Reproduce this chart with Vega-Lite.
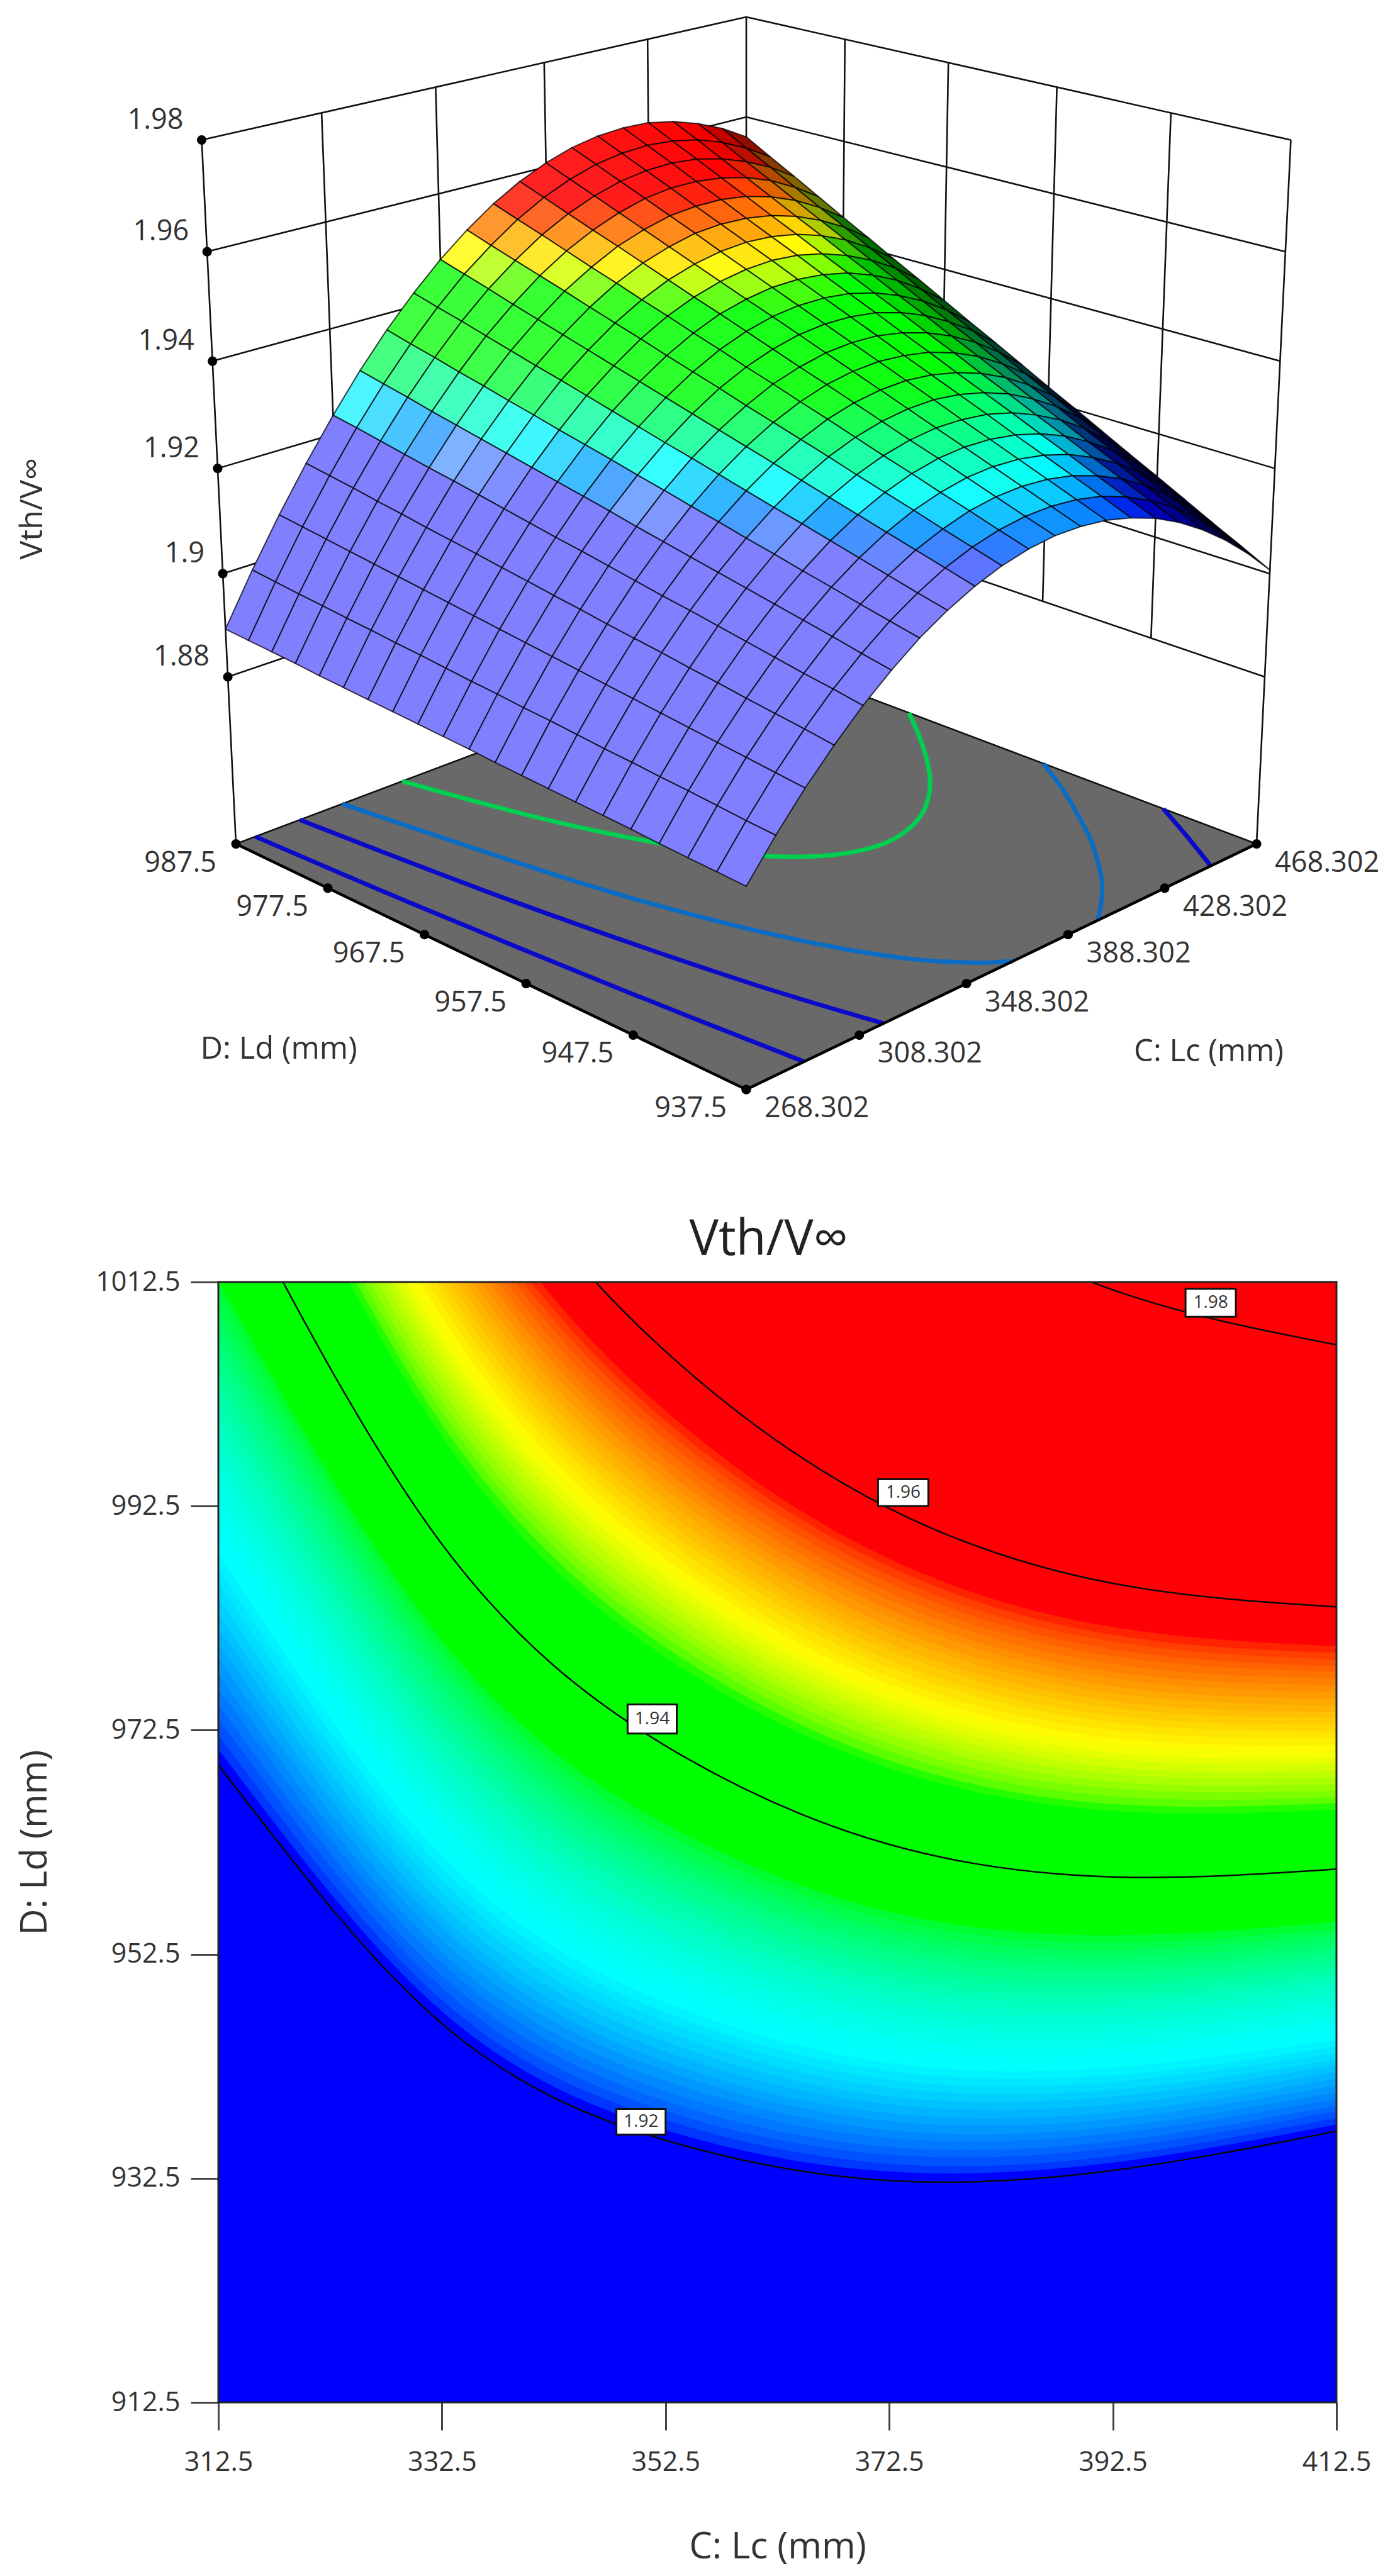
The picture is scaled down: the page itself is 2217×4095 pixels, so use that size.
{"$schema":"https://vega.github.io/schema/vega-lite/v6.json","autosize":{"type":"pad"},"padding":{"left":26,"top":0,"right":0,"bottom":0},"background":"white","bounds":"flush","spacing":138,"config":{"view":{"stroke":null},"font":"Open Sans"},
"datasets":{
"frame":[
{"k":"f","c":268.3,"d":987.5,"v":1.8468,"c2":268.3,"d2":987.5,"v2":1.8468},
{"k":"f","c":468.3,"d":987.5,"v":1.8468,"c2":268.3,"d2":937.5,"v2":1.8468},
{"k":"f","c":468.3,"d":937.5,"v":1.8468,"c2":468.3,"d2":937.5,"v2":1.8468},
{"k":"g","c":268.3,"d":987.5,"v":1.88,"c2":468.3,"d2":987.5,"v2":1.88},
{"k":"g","c":268.3,"d":987.5,"v":1.9,"c2":468.3,"d2":987.5,"v2":1.9},
{"k":"g","c":268.3,"d":987.5,"v":1.92,"c2":468.3,"d2":987.5,"v2":1.92},
{"k":"g","c":268.3,"d":987.5,"v":1.94,"c2":468.3,"d2":987.5,"v2":1.94},
{"k":"g","c":268.3,"d":987.5,"v":1.96,"c2":468.3,"d2":987.5,"v2":1.96},
{"k":"g","c":268.3,"d":987.5,"v":1.98,"c2":468.3,"d2":987.5,"v2":1.98},
{"k":"g","c":468.3,"d":987.5,"v":1.88,"c2":468.3,"d2":937.5,"v2":1.88},
{"k":"g","c":468.3,"d":987.5,"v":1.9,"c2":468.3,"d2":937.5,"v2":1.9},
{"k":"g","c":468.3,"d":987.5,"v":1.92,"c2":468.3,"d2":937.5,"v2":1.92},
{"k":"g","c":468.3,"d":987.5,"v":1.94,"c2":468.3,"d2":937.5,"v2":1.94},
{"k":"g","c":468.3,"d":987.5,"v":1.96,"c2":468.3,"d2":937.5,"v2":1.96},
{"k":"g","c":468.3,"d":987.5,"v":1.98,"c2":468.3,"d2":937.5,"v2":1.98},
{"k":"g","c":308.3,"d":987.5,"v":1.88,"c2":308.3,"d2":987.5,"v2":1.98},
{"k":"g","c":348.3,"d":987.5,"v":1.88,"c2":348.3,"d2":987.5,"v2":1.98},
{"k":"g","c":388.3,"d":987.5,"v":1.88,"c2":388.3,"d2":987.5,"v2":1.98},
{"k":"g","c":428.3,"d":987.5,"v":1.88,"c2":428.3,"d2":987.5,"v2":1.98},
{"k":"g","c":468.3,"d":987.5,"v":1.88,"c2":468.3,"d2":987.5,"v2":1.98},
{"k":"g","c":468.3,"d":947.5,"v":1.88,"c2":468.3,"d2":947.5,"v2":1.98},
{"k":"g","c":468.3,"d":957.5,"v":1.88,"c2":468.3,"d2":957.5,"v2":1.98},
{"k":"g","c":468.3,"d":967.5,"v":1.88,"c2":468.3,"d2":967.5,"v2":1.98},
{"k":"g","c":468.3,"d":977.5,"v":1.88,"c2":468.3,"d2":977.5,"v2":1.98},
{"k":"g","c":268.3,"d":987.5,"v":1.8468,"c2":268.3,"d2":987.5,"v2":1.98},
{"k":"g","c":468.3,"d":937.5,"v":1.8468,"c2":468.3,"d2":937.5,"v2":1.98},
{"k":"g","c":268.3,"d":987.5,"v":1.8468,"c2":468.3,"d2":987.5,"v2":1.8468},
{"k":"g","c":468.3,"d":987.5,"v":1.8468,"c2":468.3,"d2":937.5,"v2":1.8468},
{"k":"e","c":268.3,"d":987.5,"v":1.8468,"c2":268.3,"d2":937.5,"v2":1.8468},
{"k":"e","c":268.3,"d":937.5,"v":1.8468,"c2":468.3,"d2":937.5,"v2":1.8468},
{"k":"lv","c":268.3,"d":987.5,"v":1.88,"t":"1.88"},
{"k":"lv","c":268.3,"d":987.5,"v":1.9,"t":"1.9"},
{"k":"lv","c":268.3,"d":987.5,"v":1.92,"t":"1.92"},
{"k":"lv","c":268.3,"d":987.5,"v":1.94,"t":"1.94"},
{"k":"lv","c":268.3,"d":987.5,"v":1.96,"t":"1.96"},
{"k":"lv","c":268.3,"d":987.5,"v":1.98,"t":"1.98"},
{"k":"ld","c":268.3,"d":987.5,"v":1.8468,"t":"987.5"},
{"k":"ld","c":268.3,"d":977.5,"v":1.8468,"t":"977.5"},
{"k":"ld","c":268.3,"d":967.5,"v":1.8468,"t":"967.5"},
{"k":"ld","c":268.3,"d":957.5,"v":1.8468,"t":"957.5"},
{"k":"ld","c":268.3,"d":947.5,"v":1.8468,"t":"947.5"},
{"k":"ld","c":268.3,"d":937.5,"v":1.8468,"t":"937.5"},
{"k":"lc","c":268.3,"d":937.5,"v":1.8468,"t":"268.302"},
{"k":"lc","c":308.3,"d":937.5,"v":1.8468,"t":"308.302"},
{"k":"lc","c":348.3,"d":937.5,"v":1.8468,"t":"348.302"},
{"k":"lc","c":388.3,"d":937.5,"v":1.8468,"t":"388.302"},
{"k":"lc","c":428.3,"d":937.5,"v":1.8468,"t":"428.302"},
{"k":"lc","c":468.3,"d":937.5,"v":1.8468,"t":"468.302"},
{"k":"tc","c":428.3,"d":937.5,"v":1.8468,"t":"C: Lc (mm)"},
{"k":"td","c":268.3,"d":957.5,"v":1.8468,"t":"D: Ld (mm)"},
{"k":"tv","c":268.3,"d":987.5,"v":1.92,"t":"Vth/V∞"}
],
"floorlines":[
{"g":"a","l":"1.896","c":275.1,"d":987.5},{"g":"a","l":"1.896","c":278.3,"d":971.2},{"g":"a","l":"1.896","c":283.3,"d":952.6},{"g":"a","l":"1.896","c":288.5,"d":937.5},
{"g":"b","l":"1.91","c":290.9,"d":987.5},{"g":"b","l":"1.91","c":298.3,"d":967.1},{"g":"b","l":"1.91","c":308.3,"d":948.6},{"g":"b","l":"1.91","c":317.2,"d":937.5},
{"g":"c","l":"1.91","c":448.1,"d":937.5},{"g":"c","l":"1.91","c":458.3,"d":941.6},{"g":"c","l":"1.91","c":468.3,"d":945.8},
{"g":"d","l":"1.9222","c":306.3,"d":987.5},{"g":"d","l":"1.9222","c":318.3,"d":966.8},{"g":"d","l":"1.9222","c":328.3,"d":955.5},{"g":"d","l":"1.9222","c":338.3,"d":947.8},{"g":"d","l":"1.9222","c":348.3,"d":942.5},{"g":"d","l":"1.9222","c":358.3,"d":939.2},{"g":"d","l":"1.9222","c":366.3,"d":937.5},
{"g":"e","l":"1.9222","c":400.3,"d":937.5},{"g":"e","l":"1.9222","c":408.3,"d":938.9},{"g":"e","l":"1.9222","c":418.3,"d":940.9},{"g":"e","l":"1.9222","c":428.3,"d":943.4},{"g":"e","l":"1.9222","c":438.3,"d":946.2},{"g":"e","l":"1.9222","c":448.3,"d":949.5},{"g":"e","l":"1.9222","c":458.3,"d":953},{"g":"e","l":"1.9222","c":468.3,"d":957},
{"g":"f","l":"1.937","c":328.5,"d":987.5},{"g":"f","l":"1.937","c":338.3,"d":976.8},{"g":"f","l":"1.937","c":348.3,"d":968.9},{"g":"f","l":"1.937","c":358.3,"d":963.4},{"g":"f","l":"1.937","c":368.3,"d":959.6},{"g":"f","l":"1.937","c":378.3,"d":957.3},{"g":"f","l":"1.937","c":388.3,"d":956.1},{"g":"f","l":"1.937","c":398.3,"d":955.8},{"g":"f","l":"1.937","c":408.3,"d":956.3},{"g":"f","l":"1.937","c":418.3,"d":957.4},{"g":"f","l":"1.937","c":428.3,"d":959.1},{"g":"f","l":"1.937","c":438.3,"d":961.3},{"g":"f","l":"1.937","c":448.3,"d":964},{"g":"f","l":"1.937","c":458.3,"d":967},{"g":"f","l":"1.937","c":468.3,"d":970.3}
],
"mesh":[
{"c":268.3,"d":937.5,"v":1.8830},{"c":268.3,"d":940,"v":1.8833},{"c":268.3,"d":942.5,"v":1.8836},{"c":268.3,"d":945,"v":1.8839},{"c":268.3,"d":947.5,"v":1.8843},{"c":268.3,"d":950,"v":1.8846},{"c":268.3,"d":952.5,"v":1.8849},{"c":268.3,"d":955,"v":1.8852},{"c":268.3,"d":957.5,"v":1.8855},{"c":268.3,"d":960,"v":1.8858},{"c":268.3,"d":962.5,"v":1.8862},{"c":268.3,"d":965,"v":1.8865},{"c":268.3,"d":967.5,"v":1.8868},{"c":268.3,"d":970,"v":1.8871},{"c":268.3,"d":972.5,"v":1.8874},{"c":268.3,"d":975,"v":1.8877},{"c":268.3,"d":977.5,"v":1.8880},{"c":268.3,"d":980,"v":1.8884},{"c":268.3,"d":982.5,"v":1.8887},{"c":268.3,"d":985,"v":1.8890},{"c":268.3,"d":987.5,"v":1.8893},
{"c":278.3,"d":937.5,"v":1.8897},{"c":278.3,"d":940,"v":1.8901},{"c":278.3,"d":942.5,"v":1.8906},{"c":278.3,"d":945,"v":1.8911},{"c":278.3,"d":947.5,"v":1.8915},{"c":278.3,"d":950,"v":1.8920},{"c":278.3,"d":952.5,"v":1.8924},{"c":278.3,"d":955,"v":1.8929},{"c":278.3,"d":957.5,"v":1.8934},{"c":278.3,"d":960,"v":1.8938},{"c":278.3,"d":962.5,"v":1.8943},{"c":278.3,"d":965,"v":1.8947},{"c":278.3,"d":967.5,"v":1.8952},{"c":278.3,"d":970,"v":1.8957},{"c":278.3,"d":972.5,"v":1.8961},{"c":278.3,"d":975,"v":1.8966},{"c":278.3,"d":977.5,"v":1.8970},{"c":278.3,"d":980,"v":1.8975},{"c":278.3,"d":982.5,"v":1.8979},{"c":278.3,"d":985,"v":1.8984},{"c":278.3,"d":987.5,"v":1.8989},
{"c":288.3,"d":937.5,"v":1.8958},{"c":288.3,"d":940,"v":1.8964},{"c":288.3,"d":942.5,"v":1.8970},{"c":288.3,"d":945,"v":1.8976},{"c":288.3,"d":947.5,"v":1.8982},{"c":288.3,"d":950,"v":1.8988},{"c":288.3,"d":952.5,"v":1.8994},{"c":288.3,"d":955,"v":1.9000},{"c":288.3,"d":957.5,"v":1.9006},{"c":288.3,"d":960,"v":1.9012},{"c":288.3,"d":962.5,"v":1.9018},{"c":288.3,"d":965,"v":1.9024},{"c":288.3,"d":967.5,"v":1.9030},{"c":288.3,"d":970,"v":1.9036},{"c":288.3,"d":972.5,"v":1.9042},{"c":288.3,"d":975,"v":1.9048},{"c":288.3,"d":977.5,"v":1.9054},{"c":288.3,"d":980,"v":1.9060},{"c":288.3,"d":982.5,"v":1.9066},{"c":288.3,"d":985,"v":1.9072},{"c":288.3,"d":987.5,"v":1.9078},
{"c":298.3,"d":937.5,"v":1.9012},{"c":298.3,"d":940,"v":1.9020},{"c":298.3,"d":942.5,"v":1.9027},{"c":298.3,"d":945,"v":1.9034},{"c":298.3,"d":947.5,"v":1.9042},{"c":298.3,"d":950,"v":1.9049},{"c":298.3,"d":952.5,"v":1.9057},{"c":298.3,"d":955,"v":1.9064},{"c":298.3,"d":957.5,"v":1.9071},{"c":298.3,"d":960,"v":1.9079},{"c":298.3,"d":962.5,"v":1.9086},{"c":298.3,"d":965,"v":1.9094},{"c":298.3,"d":967.5,"v":1.9101},{"c":298.3,"d":970,"v":1.9109},{"c":298.3,"d":972.5,"v":1.9116},{"c":298.3,"d":975,"v":1.9123},{"c":298.3,"d":977.5,"v":1.9131},{"c":298.3,"d":980,"v":1.9138},{"c":298.3,"d":982.5,"v":1.9146},{"c":298.3,"d":985,"v":1.9153},{"c":298.3,"d":987.5,"v":1.9160},
{"c":308.3,"d":937.5,"v":1.9061},{"c":308.3,"d":940,"v":1.9070},{"c":308.3,"d":942.5,"v":1.9078},{"c":308.3,"d":945,"v":1.9087},{"c":308.3,"d":947.5,"v":1.9096},{"c":308.3,"d":950,"v":1.9105},{"c":308.3,"d":952.5,"v":1.9114},{"c":308.3,"d":955,"v":1.9122},{"c":308.3,"d":957.5,"v":1.9131},{"c":308.3,"d":960,"v":1.9140},{"c":308.3,"d":962.5,"v":1.9149},{"c":308.3,"d":965,"v":1.9157},{"c":308.3,"d":967.5,"v":1.9166},{"c":308.3,"d":970,"v":1.9175},{"c":308.3,"d":972.5,"v":1.9184},{"c":308.3,"d":975,"v":1.9193},{"c":308.3,"d":977.5,"v":1.9201},{"c":308.3,"d":980,"v":1.9210},{"c":308.3,"d":982.5,"v":1.9219},{"c":308.3,"d":985,"v":1.9228},{"c":308.3,"d":987.5,"v":1.9236},
{"c":318.3,"d":937.5,"v":1.9103},{"c":318.3,"d":940,"v":1.9113},{"c":318.3,"d":942.5,"v":1.9124},{"c":318.3,"d":945,"v":1.9134},{"c":318.3,"d":947.5,"v":1.9144},{"c":318.3,"d":950,"v":1.9154},{"c":318.3,"d":952.5,"v":1.9164},{"c":318.3,"d":955,"v":1.9174},{"c":318.3,"d":957.5,"v":1.9184},{"c":318.3,"d":960,"v":1.9194},{"c":318.3,"d":962.5,"v":1.9205},{"c":318.3,"d":965,"v":1.9215},{"c":318.3,"d":967.5,"v":1.9225},{"c":318.3,"d":970,"v":1.9235},{"c":318.3,"d":972.5,"v":1.9245},{"c":318.3,"d":975,"v":1.9255},{"c":318.3,"d":977.5,"v":1.9265},{"c":318.3,"d":980,"v":1.9275},{"c":318.3,"d":982.5,"v":1.9286},{"c":318.3,"d":985,"v":1.9296},{"c":318.3,"d":987.5,"v":1.9306},
{"c":328.3,"d":937.5,"v":1.9140},{"c":328.3,"d":940,"v":1.9151},{"c":328.3,"d":942.5,"v":1.9162},{"c":328.3,"d":945,"v":1.9174},{"c":328.3,"d":947.5,"v":1.9185},{"c":328.3,"d":950,"v":1.9197},{"c":328.3,"d":952.5,"v":1.9208},{"c":328.3,"d":955,"v":1.9220},{"c":328.3,"d":957.5,"v":1.9231},{"c":328.3,"d":960,"v":1.9243},{"c":328.3,"d":962.5,"v":1.9254},{"c":328.3,"d":965,"v":1.9266},{"c":328.3,"d":967.5,"v":1.9277},{"c":328.3,"d":970,"v":1.9288},{"c":328.3,"d":972.5,"v":1.9300},{"c":328.3,"d":975,"v":1.9311},{"c":328.3,"d":977.5,"v":1.9323},{"c":328.3,"d":980,"v":1.9334},{"c":328.3,"d":982.5,"v":1.9346},{"c":328.3,"d":985,"v":1.9357},{"c":328.3,"d":987.5,"v":1.9369},
{"c":338.3,"d":937.5,"v":1.9170},{"c":338.3,"d":940,"v":1.9182},{"c":338.3,"d":942.5,"v":1.9195},{"c":338.3,"d":945,"v":1.9208},{"c":338.3,"d":947.5,"v":1.9221},{"c":338.3,"d":950,"v":1.9234},{"c":338.3,"d":952.5,"v":1.9246},{"c":338.3,"d":955,"v":1.9259},{"c":338.3,"d":957.5,"v":1.9272},{"c":338.3,"d":960,"v":1.9285},{"c":338.3,"d":962.5,"v":1.9297},{"c":338.3,"d":965,"v":1.9310},{"c":338.3,"d":967.5,"v":1.9323},{"c":338.3,"d":970,"v":1.9336},{"c":338.3,"d":972.5,"v":1.9349},{"c":338.3,"d":975,"v":1.9361},{"c":338.3,"d":977.5,"v":1.9374},{"c":338.3,"d":980,"v":1.9387},{"c":338.3,"d":982.5,"v":1.9400},{"c":338.3,"d":985,"v":1.9412},{"c":338.3,"d":987.5,"v":1.9425},
{"c":348.3,"d":937.5,"v":1.9194},{"c":348.3,"d":940,"v":1.9208},{"c":348.3,"d":942.5,"v":1.9222},{"c":348.3,"d":945,"v":1.9236},{"c":348.3,"d":947.5,"v":1.9250},{"c":348.3,"d":950,"v":1.9264},{"c":348.3,"d":952.5,"v":1.9278},{"c":348.3,"d":955,"v":1.9292},{"c":348.3,"d":957.5,"v":1.9306},{"c":348.3,"d":960,"v":1.9320},{"c":348.3,"d":962.5,"v":1.9334},{"c":348.3,"d":965,"v":1.9348},{"c":348.3,"d":967.5,"v":1.9362},{"c":348.3,"d":970,"v":1.9376},{"c":348.3,"d":972.5,"v":1.9390},{"c":348.3,"d":975,"v":1.9404},{"c":348.3,"d":977.5,"v":1.9418},{"c":348.3,"d":980,"v":1.9432},{"c":348.3,"d":982.5,"v":1.9447},{"c":348.3,"d":985,"v":1.9461},{"c":348.3,"d":987.5,"v":1.9475},
{"c":358.3,"d":937.5,"v":1.9212},{"c":358.3,"d":940,"v":1.9227},{"c":358.3,"d":942.5,"v":1.9242},{"c":358.3,"d":945,"v":1.9258},{"c":358.3,"d":947.5,"v":1.9273},{"c":358.3,"d":950,"v":1.9288},{"c":358.3,"d":952.5,"v":1.9304},{"c":358.3,"d":955,"v":1.9319},{"c":358.3,"d":957.5,"v":1.9334},{"c":358.3,"d":960,"v":1.9349},{"c":358.3,"d":962.5,"v":1.9365},{"c":358.3,"d":965,"v":1.9380},{"c":358.3,"d":967.5,"v":1.9395},{"c":358.3,"d":970,"v":1.9411},{"c":358.3,"d":972.5,"v":1.9426},{"c":358.3,"d":975,"v":1.9441},{"c":358.3,"d":977.5,"v":1.9457},{"c":358.3,"d":980,"v":1.9472},{"c":358.3,"d":982.5,"v":1.9487},{"c":358.3,"d":985,"v":1.9502},{"c":358.3,"d":987.5,"v":1.9518},
{"c":368.3,"d":937.5,"v":1.9224},{"c":368.3,"d":940,"v":1.9240},{"c":368.3,"d":942.5,"v":1.9257},{"c":368.3,"d":945,"v":1.9273},{"c":368.3,"d":947.5,"v":1.9290},{"c":368.3,"d":950,"v":1.9306},{"c":368.3,"d":952.5,"v":1.9323},{"c":368.3,"d":955,"v":1.9340},{"c":368.3,"d":957.5,"v":1.9356},{"c":368.3,"d":960,"v":1.9373},{"c":368.3,"d":962.5,"v":1.9389},{"c":368.3,"d":965,"v":1.9406},{"c":368.3,"d":967.5,"v":1.9422},{"c":368.3,"d":970,"v":1.9439},{"c":368.3,"d":972.5,"v":1.9455},{"c":368.3,"d":975,"v":1.9472},{"c":368.3,"d":977.5,"v":1.9488},{"c":368.3,"d":980,"v":1.9505},{"c":368.3,"d":982.5,"v":1.9522},{"c":368.3,"d":985,"v":1.9538},{"c":368.3,"d":987.5,"v":1.9555},
{"c":378.3,"d":937.5,"v":1.9230},{"c":378.3,"d":940,"v":1.9247},{"c":378.3,"d":942.5,"v":1.9265},{"c":378.3,"d":945,"v":1.9283},{"c":378.3,"d":947.5,"v":1.9301},{"c":378.3,"d":950,"v":1.9318},{"c":378.3,"d":952.5,"v":1.9336},{"c":378.3,"d":955,"v":1.9354},{"c":378.3,"d":957.5,"v":1.9372},{"c":378.3,"d":960,"v":1.9389},{"c":378.3,"d":962.5,"v":1.9407},{"c":378.3,"d":965,"v":1.9425},{"c":378.3,"d":967.5,"v":1.9443},{"c":378.3,"d":970,"v":1.9460},{"c":378.3,"d":972.5,"v":1.9478},{"c":378.3,"d":975,"v":1.9496},{"c":378.3,"d":977.5,"v":1.9514},{"c":378.3,"d":980,"v":1.9531},{"c":378.3,"d":982.5,"v":1.9549},{"c":378.3,"d":985,"v":1.9567},{"c":378.3,"d":987.5,"v":1.9585},
{"c":388.3,"d":937.5,"v":1.9229},{"c":388.3,"d":940,"v":1.9248},{"c":388.3,"d":942.5,"v":1.9267},{"c":388.3,"d":945,"v":1.9286},{"c":388.3,"d":947.5,"v":1.9305},{"c":388.3,"d":950,"v":1.9324},{"c":388.3,"d":952.5,"v":1.9343},{"c":388.3,"d":955,"v":1.9362},{"c":388.3,"d":957.5,"v":1.9381},{"c":388.3,"d":960,"v":1.9400},{"c":388.3,"d":962.5,"v":1.9419},{"c":388.3,"d":965,"v":1.9438},{"c":388.3,"d":967.5,"v":1.9456},{"c":388.3,"d":970,"v":1.9475},{"c":388.3,"d":972.5,"v":1.9494},{"c":388.3,"d":975,"v":1.9513},{"c":388.3,"d":977.5,"v":1.9532},{"c":388.3,"d":980,"v":1.9551},{"c":388.3,"d":982.5,"v":1.9570},{"c":388.3,"d":985,"v":1.9589},{"c":388.3,"d":987.5,"v":1.9608},
{"c":398.3,"d":937.5,"v":1.9223},{"c":398.3,"d":940,"v":1.9243},{"c":398.3,"d":942.5,"v":1.9263},{"c":398.3,"d":945,"v":1.9283},{"c":398.3,"d":947.5,"v":1.9303},{"c":398.3,"d":950,"v":1.9323},{"c":398.3,"d":952.5,"v":1.9344},{"c":398.3,"d":955,"v":1.9364},{"c":398.3,"d":957.5,"v":1.9384},{"c":398.3,"d":960,"v":1.9404},{"c":398.3,"d":962.5,"v":1.9424},{"c":398.3,"d":965,"v":1.9444},{"c":398.3,"d":967.5,"v":1.9464},{"c":398.3,"d":970,"v":1.9484},{"c":398.3,"d":972.5,"v":1.9504},{"c":398.3,"d":975,"v":1.9525},{"c":398.3,"d":977.5,"v":1.9545},{"c":398.3,"d":980,"v":1.9565},{"c":398.3,"d":982.5,"v":1.9585},{"c":398.3,"d":985,"v":1.9605},{"c":398.3,"d":987.5,"v":1.9625},
{"c":408.3,"d":937.5,"v":1.9210},{"c":408.3,"d":940,"v":1.9232},{"c":408.3,"d":942.5,"v":1.9253},{"c":408.3,"d":945,"v":1.9274},{"c":408.3,"d":947.5,"v":1.9295},{"c":408.3,"d":950,"v":1.9317},{"c":408.3,"d":952.5,"v":1.9338},{"c":408.3,"d":955,"v":1.9359},{"c":408.3,"d":957.5,"v":1.9380},{"c":408.3,"d":960,"v":1.9402},{"c":408.3,"d":962.5,"v":1.9423},{"c":408.3,"d":965,"v":1.9444},{"c":408.3,"d":967.5,"v":1.9465},{"c":408.3,"d":970,"v":1.9487},{"c":408.3,"d":972.5,"v":1.9508},{"c":408.3,"d":975,"v":1.9529},{"c":408.3,"d":977.5,"v":1.9550},{"c":408.3,"d":980,"v":1.9572},{"c":408.3,"d":982.5,"v":1.9593},{"c":408.3,"d":985,"v":1.9614},{"c":408.3,"d":987.5,"v":1.9635},
{"c":418.3,"d":937.5,"v":1.9192},{"c":418.3,"d":940,"v":1.9214},{"c":418.3,"d":942.5,"v":1.9236},{"c":418.3,"d":945,"v":1.9259},{"c":418.3,"d":947.5,"v":1.9281},{"c":418.3,"d":950,"v":1.9304},{"c":418.3,"d":952.5,"v":1.9326},{"c":418.3,"d":955,"v":1.9348},{"c":418.3,"d":957.5,"v":1.9371},{"c":418.3,"d":960,"v":1.9393},{"c":418.3,"d":962.5,"v":1.9416},{"c":418.3,"d":965,"v":1.9438},{"c":418.3,"d":967.5,"v":1.9460},{"c":418.3,"d":970,"v":1.9483},{"c":418.3,"d":972.5,"v":1.9505},{"c":418.3,"d":975,"v":1.9527},{"c":418.3,"d":977.5,"v":1.9550},{"c":418.3,"d":980,"v":1.9572},{"c":418.3,"d":982.5,"v":1.9595},{"c":418.3,"d":985,"v":1.9617},{"c":418.3,"d":987.5,"v":1.9639},
{"c":428.3,"d":937.5,"v":1.9167},{"c":428.3,"d":940,"v":1.9190},{"c":428.3,"d":942.5,"v":1.9214},{"c":428.3,"d":945,"v":1.9237},{"c":428.3,"d":947.5,"v":1.9261},{"c":428.3,"d":950,"v":1.9284},{"c":428.3,"d":952.5,"v":1.9308},{"c":428.3,"d":955,"v":1.9331},{"c":428.3,"d":957.5,"v":1.9355},{"c":428.3,"d":960,"v":1.9378},{"c":428.3,"d":962.5,"v":1.9402},{"c":428.3,"d":965,"v":1.9425},{"c":428.3,"d":967.5,"v":1.9449},{"c":428.3,"d":970,"v":1.9472},{"c":428.3,"d":972.5,"v":1.9496},{"c":428.3,"d":975,"v":1.9519},{"c":428.3,"d":977.5,"v":1.9543},{"c":428.3,"d":980,"v":1.9566},{"c":428.3,"d":982.5,"v":1.9590},{"c":428.3,"d":985,"v":1.9613},{"c":428.3,"d":987.5,"v":1.9637},
{"c":438.3,"d":937.5,"v":1.9136},{"c":438.3,"d":940,"v":1.9161},{"c":438.3,"d":942.5,"v":1.9185},{"c":438.3,"d":945,"v":1.9210},{"c":438.3,"d":947.5,"v":1.9234},{"c":438.3,"d":950,"v":1.9259},{"c":438.3,"d":952.5,"v":1.9283},{"c":438.3,"d":955,"v":1.9308},{"c":438.3,"d":957.5,"v":1.9333},{"c":438.3,"d":960,"v":1.9357},{"c":438.3,"d":962.5,"v":1.9382},{"c":438.3,"d":965,"v":1.9406},{"c":438.3,"d":967.5,"v":1.9431},{"c":438.3,"d":970,"v":1.9455},{"c":438.3,"d":972.5,"v":1.9480},{"c":438.3,"d":975,"v":1.9504},{"c":438.3,"d":977.5,"v":1.9529},{"c":438.3,"d":980,"v":1.9554},{"c":438.3,"d":982.5,"v":1.9578},{"c":438.3,"d":985,"v":1.9603},{"c":438.3,"d":987.5,"v":1.9627},
{"c":448.3,"d":937.5,"v":1.9099},{"c":448.3,"d":940,"v":1.9125},{"c":448.3,"d":942.5,"v":1.9150},{"c":448.3,"d":945,"v":1.9176},{"c":448.3,"d":947.5,"v":1.9202},{"c":448.3,"d":950,"v":1.9227},{"c":448.3,"d":952.5,"v":1.9253},{"c":448.3,"d":955,"v":1.9278},{"c":448.3,"d":957.5,"v":1.9304},{"c":448.3,"d":960,"v":1.9330},{"c":448.3,"d":962.5,"v":1.9355},{"c":448.3,"d":965,"v":1.9381},{"c":448.3,"d":967.5,"v":1.9407},{"c":448.3,"d":970,"v":1.9432},{"c":448.3,"d":972.5,"v":1.9458},{"c":448.3,"d":975,"v":1.9483},{"c":448.3,"d":977.5,"v":1.9509},{"c":448.3,"d":980,"v":1.9535},{"c":448.3,"d":982.5,"v":1.9560},{"c":448.3,"d":985,"v":1.9586},{"c":448.3,"d":987.5,"v":1.9611},
{"c":458.3,"d":937.5,"v":1.9056},{"c":458.3,"d":940,"v":1.9083},{"c":458.3,"d":942.5,"v":1.9109},{"c":458.3,"d":945,"v":1.9136},{"c":458.3,"d":947.5,"v":1.9163},{"c":458.3,"d":950,"v":1.9189},{"c":458.3,"d":952.5,"v":1.9216},{"c":458.3,"d":955,"v":1.9243},{"c":458.3,"d":957.5,"v":1.9269},{"c":458.3,"d":960,"v":1.9296},{"c":458.3,"d":962.5,"v":1.9323},{"c":458.3,"d":965,"v":1.9349},{"c":458.3,"d":967.5,"v":1.9376},{"c":458.3,"d":970,"v":1.9403},{"c":458.3,"d":972.5,"v":1.9429},{"c":458.3,"d":975,"v":1.9456},{"c":458.3,"d":977.5,"v":1.9482},{"c":458.3,"d":980,"v":1.9509},{"c":458.3,"d":982.5,"v":1.9536},{"c":458.3,"d":985,"v":1.9562},{"c":458.3,"d":987.5,"v":1.9589},
{"c":468.3,"d":937.5,"v":1.9007},{"c":468.3,"d":940,"v":1.9035},{"c":468.3,"d":942.5,"v":1.9062},{"c":468.3,"d":945,"v":1.9090},{"c":468.3,"d":947.5,"v":1.9118},{"c":468.3,"d":950,"v":1.9145},{"c":468.3,"d":952.5,"v":1.9173},{"c":468.3,"d":955,"v":1.9201},{"c":468.3,"d":957.5,"v":1.9228},{"c":468.3,"d":960,"v":1.9256},{"c":468.3,"d":962.5,"v":1.9284},{"c":468.3,"d":965,"v":1.9311},{"c":468.3,"d":967.5,"v":1.9339},{"c":468.3,"d":970,"v":1.9367},{"c":468.3,"d":972.5,"v":1.9394},{"c":468.3,"d":975,"v":1.9422},{"c":468.3,"d":977.5,"v":1.9449},{"c":468.3,"d":980,"v":1.9477},{"c":468.3,"d":982.5,"v":1.9505},{"c":468.3,"d":985,"v":1.9532},{"c":468.3,"d":987.5,"v":1.9560}
],
"bands":[
{"L":1.9205,"c":312.5,"d":970.8},{"L":1.9205,"c":332.5,"d":947.4},{"L":1.9205,"c":352.5,"d":936.8},{"L":1.9205,"c":372.5,"d":933.1},{"L":1.9205,"c":392.5,"d":933.9},{"L":1.9205,"c":412.5,"d":937.3},
{"L":1.921,"c":312.5,"d":972.1},{"L":1.921,"c":332.5,"d":948.4},{"L":1.921,"c":352.5,"d":937.7},{"L":1.921,"c":372.5,"d":933.8},{"L":1.921,"c":392.5,"d":934.5},{"L":1.921,"c":412.5,"d":937.9},
{"L":1.9215,"c":312.5,"d":973.5},{"L":1.9215,"c":332.5,"d":949.5},{"L":1.9215,"c":352.5,"d":938.5},{"L":1.9215,"c":372.5,"d":934.6},{"L":1.9215,"c":392.5,"d":935.2},{"L":1.9215,"c":412.5,"d":938.5},
{"L":1.922,"c":312.5,"d":974.8},{"L":1.922,"c":332.5,"d":950.6},{"L":1.922,"c":352.5,"d":939.4},{"L":1.922,"c":372.5,"d":935.3},{"L":1.922,"c":392.5,"d":935.8},{"L":1.922,"c":412.5,"d":939},
{"L":1.9225,"c":312.5,"d":976.2},{"L":1.9225,"c":332.5,"d":951.7},{"L":1.9225,"c":352.5,"d":940.3},{"L":1.9225,"c":372.5,"d":936.1},{"L":1.9225,"c":392.5,"d":936.5},{"L":1.9225,"c":412.5,"d":939.6},
{"L":1.923,"c":312.5,"d":977.5},{"L":1.923,"c":332.5,"d":952.7},{"L":1.923,"c":352.5,"d":941.2},{"L":1.923,"c":372.5,"d":936.8},{"L":1.923,"c":392.5,"d":937.1},{"L":1.923,"c":412.5,"d":940.2},
{"L":1.9235,"c":312.5,"d":978.9},{"L":1.9235,"c":332.5,"d":953.8},{"L":1.9235,"c":352.5,"d":942.1},{"L":1.9235,"c":372.5,"d":937.6},{"L":1.9235,"c":392.5,"d":937.8},{"L":1.9235,"c":412.5,"d":940.8},
{"L":1.924,"c":312.5,"d":980.2},{"L":1.924,"c":332.5,"d":954.9},{"L":1.924,"c":352.5,"d":942.9},{"L":1.924,"c":372.5,"d":938.3},{"L":1.924,"c":392.5,"d":938.4},{"L":1.924,"c":412.5,"d":941.4},
{"L":1.9245,"c":312.5,"d":981.6},{"L":1.9245,"c":332.5,"d":955.9},{"L":1.9245,"c":352.5,"d":943.8},{"L":1.9245,"c":372.5,"d":939.1},{"L":1.9245,"c":392.5,"d":939.1},{"L":1.9245,"c":412.5,"d":942},
{"L":1.925,"c":312.5,"d":982.9},{"L":1.925,"c":332.5,"d":957},{"L":1.925,"c":352.5,"d":944.7},{"L":1.925,"c":372.5,"d":939.8},{"L":1.925,"c":392.5,"d":939.8},{"L":1.925,"c":412.5,"d":942.6},
{"L":1.9255,"c":312.5,"d":984.3},{"L":1.9255,"c":332.5,"d":958.1},{"L":1.9255,"c":352.5,"d":945.6},{"L":1.9255,"c":372.5,"d":940.6},{"L":1.9255,"c":392.5,"d":940.4},{"L":1.9255,"c":412.5,"d":943.1},
{"L":1.926,"c":312.5,"d":985.6},{"L":1.926,"c":332.5,"d":959.1},{"L":1.926,"c":352.5,"d":946.5},{"L":1.926,"c":372.5,"d":941.3},{"L":1.926,"c":392.5,"d":941.1},{"L":1.926,"c":412.5,"d":943.7},
{"L":1.9265,"c":312.5,"d":987},{"L":1.9265,"c":332.5,"d":960.2},{"L":1.9265,"c":352.5,"d":947.3},{"L":1.9265,"c":372.5,"d":942.1},{"L":1.9265,"c":392.5,"d":941.7},{"L":1.9265,"c":412.5,"d":944.3},
{"L":1.927,"c":312.5,"d":988.3},{"L":1.927,"c":332.5,"d":961.3},{"L":1.927,"c":352.5,"d":948.2},{"L":1.927,"c":372.5,"d":942.8},{"L":1.927,"c":392.5,"d":942.4},{"L":1.927,"c":412.5,"d":944.9},
{"L":1.9275,"c":312.5,"d":989.7},{"L":1.9275,"c":332.5,"d":962.4},{"L":1.9275,"c":352.5,"d":949.1},{"L":1.9275,"c":372.5,"d":943.6},{"L":1.9275,"c":392.5,"d":943},{"L":1.9275,"c":412.5,"d":945.5},
{"L":1.928,"c":312.5,"d":991},{"L":1.928,"c":332.5,"d":963.4},{"L":1.928,"c":352.5,"d":950},{"L":1.928,"c":372.5,"d":944.3},{"L":1.928,"c":392.5,"d":943.7},{"L":1.928,"c":412.5,"d":946.1},
{"L":1.9285,"c":312.5,"d":992.4},{"L":1.9285,"c":332.5,"d":964.5},{"L":1.9285,"c":352.5,"d":950.9},{"L":1.9285,"c":372.5,"d":945.1},{"L":1.9285,"c":392.5,"d":944.3},{"L":1.9285,"c":412.5,"d":946.7},
{"L":1.929,"c":312.5,"d":993.7},{"L":1.929,"c":332.5,"d":965.6},{"L":1.929,"c":352.5,"d":951.7},{"L":1.929,"c":372.5,"d":945.8},{"L":1.929,"c":392.5,"d":945},{"L":1.929,"c":412.5,"d":947.2},
{"L":1.9295,"c":312.5,"d":995.1},{"L":1.9295,"c":332.5,"d":966.6},{"L":1.9295,"c":352.5,"d":952.6},{"L":1.9295,"c":372.5,"d":946.6},{"L":1.9295,"c":392.5,"d":945.6},{"L":1.9295,"c":412.5,"d":947.8},
{"L":1.93,"c":312.5,"d":996.4},{"L":1.93,"c":332.5,"d":967.7},{"L":1.93,"c":352.5,"d":953.5},{"L":1.93,"c":372.5,"d":947.3},{"L":1.93,"c":392.5,"d":946.3},{"L":1.93,"c":412.5,"d":948.4},
{"L":1.9305,"c":312.5,"d":997.8},{"L":1.9305,"c":332.5,"d":968.8},{"L":1.9305,"c":352.5,"d":954.4},{"L":1.9305,"c":372.5,"d":948.1},{"L":1.9305,"c":392.5,"d":947},{"L":1.9305,"c":412.5,"d":949},
{"L":1.931,"c":312.5,"d":999.1},{"L":1.931,"c":332.5,"d":969.8},{"L":1.931,"c":352.5,"d":955.3},{"L":1.931,"c":372.5,"d":948.8},{"L":1.931,"c":392.5,"d":947.6},{"L":1.931,"c":412.5,"d":949.6},
{"L":1.9315,"c":312.5,"d":1000.5},{"L":1.9315,"c":332.5,"d":970.9},{"L":1.9315,"c":352.5,"d":956.1},{"L":1.9315,"c":372.5,"d":949.6},{"L":1.9315,"c":392.5,"d":948.3},{"L":1.9315,"c":412.5,"d":950.2},
{"L":1.932,"c":312.5,"d":1001.8},{"L":1.932,"c":332.5,"d":972},{"L":1.932,"c":352.5,"d":957},{"L":1.932,"c":372.5,"d":950.3},{"L":1.932,"c":392.5,"d":948.9},{"L":1.932,"c":412.5,"d":950.7},
{"L":1.9325,"c":312.5,"d":1003.2},{"L":1.9325,"c":332.5,"d":973.1},{"L":1.9325,"c":352.5,"d":957.9},{"L":1.9325,"c":372.5,"d":951.1},{"L":1.9325,"c":392.5,"d":949.6},{"L":1.9325,"c":412.5,"d":951.3},
{"L":1.933,"c":312.5,"d":1004.5},{"L":1.933,"c":332.5,"d":974.1},{"L":1.933,"c":352.5,"d":958.8},{"L":1.933,"c":372.5,"d":951.8},{"L":1.933,"c":392.5,"d":950.2},{"L":1.933,"c":412.5,"d":951.9},
{"L":1.9335,"c":312.5,"d":1005.9},{"L":1.9335,"c":332.5,"d":975.2},{"L":1.9335,"c":352.5,"d":959.7},{"L":1.9335,"c":372.5,"d":952.6},{"L":1.9335,"c":392.5,"d":950.9},{"L":1.9335,"c":412.5,"d":952.5},
{"L":1.934,"c":312.5,"d":1007.2},{"L":1.934,"c":332.5,"d":976.3},{"L":1.934,"c":352.5,"d":960.5},{"L":1.934,"c":372.5,"d":953.3},{"L":1.934,"c":392.5,"d":951.5},{"L":1.934,"c":412.5,"d":953.1},
{"L":1.9345,"c":312.5,"d":1008.6},{"L":1.9345,"c":332.5,"d":977.3},{"L":1.9345,"c":352.5,"d":961.4},{"L":1.9345,"c":372.5,"d":954.1},{"L":1.9345,"c":392.5,"d":952.2},{"L":1.9345,"c":412.5,"d":953.7},
{"L":1.935,"c":312.5,"d":1009.9},{"L":1.935,"c":332.5,"d":978.4},{"L":1.935,"c":352.5,"d":962.3},{"L":1.935,"c":372.5,"d":954.8},{"L":1.935,"c":392.5,"d":952.9},{"L":1.935,"c":412.5,"d":954.3},
{"L":1.9355,"c":312.5,"d":1011.3},{"L":1.9355,"c":332.5,"d":979.5},{"L":1.9355,"c":352.5,"d":963.2},{"L":1.9355,"c":372.5,"d":955.6},{"L":1.9355,"c":392.5,"d":953.5},{"L":1.9355,"c":412.5,"d":954.8},
{"L":1.936,"c":312.5,"d":1012.6},{"L":1.936,"c":332.5,"d":980.5},{"L":1.936,"c":352.5,"d":964.1},{"L":1.936,"c":372.5,"d":956.3},{"L":1.936,"c":392.5,"d":954.2},{"L":1.936,"c":412.5,"d":955.4},
{"L":1.9445,"c":312.5,"d":1035.6},{"L":1.9445,"c":332.5,"d":998.7},{"L":1.9445,"c":352.5,"d":979},{"L":1.9445,"c":372.5,"d":969.1},{"L":1.9445,"c":392.5,"d":965.3},{"L":1.9445,"c":412.5,"d":965.4},
{"L":1.945,"c":312.5,"d":1036.9},{"L":1.945,"c":332.5,"d":999.8},{"L":1.945,"c":352.5,"d":979.9},{"L":1.945,"c":372.5,"d":969.8},{"L":1.945,"c":392.5,"d":965.9},{"L":1.945,"c":412.5,"d":966},
{"L":1.9455,"c":312.5,"d":1038.3},{"L":1.9455,"c":332.5,"d":1000.9},{"L":1.9455,"c":352.5,"d":980.8},{"L":1.9455,"c":372.5,"d":970.6},{"L":1.9455,"c":392.5,"d":966.6},{"L":1.9455,"c":412.5,"d":966.5},
{"L":1.946,"c":312.5,"d":1039.6},{"L":1.946,"c":332.5,"d":1001.9},{"L":1.946,"c":352.5,"d":981.7},{"L":1.946,"c":372.5,"d":971.3},{"L":1.946,"c":392.5,"d":967.3},{"L":1.946,"c":412.5,"d":967.1},
{"L":1.9465,"c":312.5,"d":1041},{"L":1.9465,"c":332.5,"d":1003},{"L":1.9465,"c":352.5,"d":982.5},{"L":1.9465,"c":372.5,"d":972.1},{"L":1.9465,"c":392.5,"d":967.9},{"L":1.9465,"c":412.5,"d":967.7},
{"L":1.947,"c":312.5,"d":1042.3},{"L":1.947,"c":332.5,"d":1004.1},{"L":1.947,"c":352.5,"d":983.4},{"L":1.947,"c":372.5,"d":972.8},{"L":1.947,"c":392.5,"d":968.6},{"L":1.947,"c":412.5,"d":968.3},
{"L":1.9475,"c":312.5,"d":1043.7},{"L":1.9475,"c":332.5,"d":1005.2},{"L":1.9475,"c":352.5,"d":984.3},{"L":1.9475,"c":372.5,"d":973.6},{"L":1.9475,"c":392.5,"d":969.2},{"L":1.9475,"c":412.5,"d":968.9},
{"L":1.948,"c":312.5,"d":1045},{"L":1.948,"c":332.5,"d":1006.2},{"L":1.948,"c":352.5,"d":985.2},{"L":1.948,"c":372.5,"d":974.3},{"L":1.948,"c":392.5,"d":969.9},{"L":1.948,"c":412.5,"d":969.5},
{"L":1.9485,"c":312.5,"d":1046.4},{"L":1.9485,"c":332.5,"d":1007.3},{"L":1.9485,"c":352.5,"d":986.1},{"L":1.9485,"c":372.5,"d":975.1},{"L":1.9485,"c":392.5,"d":970.5},{"L":1.9485,"c":412.5,"d":970},
{"L":1.949,"c":312.5,"d":1047.7},{"L":1.949,"c":332.5,"d":1008.4},{"L":1.949,"c":352.5,"d":986.9},{"L":1.949,"c":372.5,"d":975.8},{"L":1.949,"c":392.5,"d":971.2},{"L":1.949,"c":412.5,"d":970.6},
{"L":1.9495,"c":312.5,"d":1049.1},{"L":1.9495,"c":332.5,"d":1009.4},{"L":1.9495,"c":352.5,"d":987.8},{"L":1.9495,"c":372.5,"d":976.6},{"L":1.9495,"c":392.5,"d":971.8},{"L":1.9495,"c":412.5,"d":971.2},
{"L":1.95,"c":312.5,"d":1050.4},{"L":1.95,"c":332.5,"d":1010.5},{"L":1.95,"c":352.5,"d":988.7},{"L":1.95,"c":372.5,"d":977.3},{"L":1.95,"c":392.5,"d":972.5},{"L":1.95,"c":412.5,"d":971.8},
{"L":1.9505,"c":312.5,"d":1051.8},{"L":1.9505,"c":332.5,"d":1011.6},{"L":1.9505,"c":352.5,"d":989.6},{"L":1.9505,"c":372.5,"d":978.1},{"L":1.9505,"c":392.5,"d":973.2},{"L":1.9505,"c":412.5,"d":972.4},
{"L":1.951,"c":312.5,"d":1053.1},{"L":1.951,"c":332.5,"d":1012.6},{"L":1.951,"c":352.5,"d":990.5},{"L":1.951,"c":372.5,"d":978.8},{"L":1.951,"c":392.5,"d":973.8},{"L":1.951,"c":412.5,"d":973},
{"L":1.9515,"c":312.5,"d":1054.5},{"L":1.9515,"c":332.5,"d":1013.7},{"L":1.9515,"c":352.5,"d":991.3},{"L":1.9515,"c":372.5,"d":979.6},{"L":1.9515,"c":392.5,"d":974.5},{"L":1.9515,"c":412.5,"d":973.6},
{"L":1.952,"c":312.5,"d":1055.8},{"L":1.952,"c":332.5,"d":1014.8},{"L":1.952,"c":352.5,"d":992.2},{"L":1.952,"c":372.5,"d":980.3},{"L":1.952,"c":392.5,"d":975.1},{"L":1.952,"c":412.5,"d":974.1},
{"L":1.9525,"c":312.5,"d":1057.2},{"L":1.9525,"c":332.5,"d":1015.9},{"L":1.9525,"c":352.5,"d":993.1},{"L":1.9525,"c":372.5,"d":981.1},{"L":1.9525,"c":392.5,"d":975.8},{"L":1.9525,"c":412.5,"d":974.7},
{"L":1.953,"c":312.5,"d":1058.5},{"L":1.953,"c":332.5,"d":1016.9},{"L":1.953,"c":352.5,"d":994},{"L":1.953,"c":372.5,"d":981.8},{"L":1.953,"c":392.5,"d":976.4},{"L":1.953,"c":412.5,"d":975.3},
{"L":1.9535,"c":312.5,"d":1059.9},{"L":1.9535,"c":332.5,"d":1018},{"L":1.9535,"c":352.5,"d":994.9},{"L":1.9535,"c":372.5,"d":982.6},{"L":1.9535,"c":392.5,"d":977.1},{"L":1.9535,"c":412.5,"d":975.9},
{"L":1.954,"c":312.5,"d":1061.2},{"L":1.954,"c":332.5,"d":1019.1},{"L":1.954,"c":352.5,"d":995.7},{"L":1.954,"c":372.5,"d":983.3},{"L":1.954,"c":392.5,"d":977.7},{"L":1.954,"c":412.5,"d":976.5},
{"L":1.9545,"c":312.5,"d":1062.6},{"L":1.9545,"c":332.5,"d":1020.1},{"L":1.9545,"c":352.5,"d":996.6},{"L":1.9545,"c":372.5,"d":984.1},{"L":1.9545,"c":392.5,"d":978.4},{"L":1.9545,"c":412.5,"d":977.1},
{"L":1.955,"c":312.5,"d":1063.9},{"L":1.955,"c":332.5,"d":1021.2},{"L":1.955,"c":352.5,"d":997.5},{"L":1.955,"c":372.5,"d":984.8},{"L":1.955,"c":392.5,"d":979.1},{"L":1.955,"c":412.5,"d":977.7},
{"L":1.9555,"c":312.5,"d":1065.3},{"L":1.9555,"c":332.5,"d":1022.3},{"L":1.9555,"c":352.5,"d":998.4},{"L":1.9555,"c":372.5,"d":985.6},{"L":1.9555,"c":392.5,"d":979.7},{"L":1.9555,"c":412.5,"d":978.2},
{"L":1.956,"c":312.5,"d":1066.6},{"L":1.956,"c":332.5,"d":1023.3},{"L":1.956,"c":352.5,"d":999.3},{"L":1.956,"c":372.5,"d":986.3},{"L":1.956,"c":392.5,"d":980.4},{"L":1.956,"c":412.5,"d":978.8},
{"L":1.9565,"c":312.5,"d":1068},{"L":1.9565,"c":332.5,"d":1024.4},{"L":1.9565,"c":352.5,"d":1000.1},{"L":1.9565,"c":372.5,"d":987.1},{"L":1.9565,"c":392.5,"d":981},{"L":1.9565,"c":412.5,"d":979.4},
{"L":1.957,"c":312.5,"d":1069.3},{"L":1.957,"c":332.5,"d":1025.5},{"L":1.957,"c":352.5,"d":1001},{"L":1.957,"c":372.5,"d":987.8},{"L":1.957,"c":392.5,"d":981.7},{"L":1.957,"c":412.5,"d":980}
],
"levels":[
{"L":"1.92","c":312.5,"d":969.4},{"L":"1.92","c":332.5,"d":946.3},{"L":"1.92","c":352.5,"d":935.9},{"L":"1.92","c":372.5,"d":932.3},{"L":"1.92","c":392.5,"d":933.2},{"L":"1.92","c":412.5,"d":936.7},
{"L":"1.94","c":312.5,"d":1023.4},{"L":"1.94","c":332.5,"d":989.1},{"L":"1.94","c":352.5,"d":971.1},{"L":"1.94","c":372.5,"d":962.3},{"L":"1.94","c":392.5,"d":959.4},{"L":"1.94","c":412.5,"d":960.1},
{"L":"1.96","c":312.5,"d":1077.4},{"L":"1.96","c":332.5,"d":1031.9},{"L":"1.96","c":352.5,"d":1006.3},{"L":"1.96","c":372.5,"d":992.3},{"L":"1.96","c":392.5,"d":985.6},{"L":"1.96","c":412.5,"d":983.5},
{"L":"1.98","c":312.5,"d":1131.4},{"L":"1.98","c":332.5,"d":1074.7},{"L":"1.98","c":352.5,"d":1041.5},{"L":"1.98","c":372.5,"d":1022.3},{"L":"1.98","c":392.5,"d":1011.8},{"L":"1.98","c":412.5,"d":1006.9}
]
},
"vconcat":[
{"width":1777,"height":1900,"layer":[
{"data":{"name":"frame"},"transform":[
{"calculate":"(datum.c-268.3)/200","as":"X"},{"calculate":"(datum.d-937.5)/50","as":"Y"},{"calculate":"(datum.v-1.8468)/.1332","as":"Z"},{"calculate":"1+.13841*(datum.X+datum.Y)-.07167*datum.Z","as":"W"},{"calculate":"1186+923.25*(datum.X-datum.Y)/datum.W","as":"sx"},{"calculate":"(1732-204.8*(datum.X+datum.Y)-1289.85*datum.Z)/datum.W","as":"sy"},
{"calculate":"(datum.c2-268.3)/200","as":"X2"},{"calculate":"(datum.d2-937.5)/50","as":"Y2"},{"calculate":"(datum.v2-1.8468)/.1332","as":"Z2"},{"calculate":"1+.13841*(datum.X2+datum.Y2)-.07167*datum.Z2","as":"W2"},{"calculate":"1186+923.25*(datum.X2-datum.Y2)/datum.W2","as":"sx2"},{"calculate":"(1732-204.8*(datum.X2+datum.Y2)-1289.85*datum.Z2)/datum.W2","as":"sy2"}],
"encoding":{"x":{"field":"sx","type":"quantitative","axis":null,"scale":{"domain":[347,2124],"nice":false,"zero":false}},"y":{"field":"sy","type":"quantitative","axis":null,"scale":{"domain":[1900,0],"nice":false,"zero":false}}},
"layer":[
{"transform":[{"filter":"datum.k=='f'"}],"mark":{"type":"area","color":"#696969"},"encoding":{"y2":{"field":"sy2"}}},
{"transform":[{"filter":"datum.k=='g'"}],"mark":{"type":"rule","color":"#111","strokeWidth":2.6},"encoding":{"x2":{"field":"sx2"},"y2":{"field":"sy2"}}}
]},
{"data":{"name":"floorlines"},"transform":[
{"calculate":"(datum.c-268.3)/200","as":"X"},{"calculate":"(datum.d-937.5)/50","as":"Y"},{"calculate":"1+.13841*(datum.X+datum.Y)","as":"W"},{"calculate":"1186+923.25*(datum.X-datum.Y)/datum.W","as":"sx"},{"calculate":"(1732-204.8*(datum.X+datum.Y))/datum.W","as":"sy"}],
"mark":{"type":"line","interpolate":"cardinal","strokeCap":"butt"},
"encoding":{"x":{"field":"sx","type":"quantitative","axis":null,"scale":{"domain":[347,2124],"nice":false,"zero":false}},"y":{"field":"sy","type":"quantitative","axis":null,"scale":{"domain":[1900,0],"nice":false,"zero":false}},"detail":{"field":"g"},"order":{"value":null},"strokeWidth":{"field":"l","type":"nominal","legend":null,"scale":{"domain":["1.896","1.91","1.9222","1.937"],"range":[7,7,11,11]}},"color":{"field":"l","type":"nominal","legend":null,"scale":{"domain":["1.896","1.91","1.9222","1.937"],"range":["#0a0ac8","#0a0ac8","#0a6cc4","#00d050"]}}}},
{"data":{"name":"frame"},"transform":[
{"filter":"datum.k=='e'"},
{"calculate":"(datum.c-268.3)/200","as":"X"},{"calculate":"(datum.d-937.5)/50","as":"Y"},{"calculate":"1+.13841*(datum.X+datum.Y)","as":"W"},{"calculate":"1186+923.25*(datum.X-datum.Y)/datum.W","as":"sx"},{"calculate":"(1732-204.8*(datum.X+datum.Y))/datum.W","as":"sy"},
{"calculate":"(datum.c2-268.3)/200","as":"X2"},{"calculate":"(datum.d2-937.5)/50","as":"Y2"},{"calculate":"1+.13841*(datum.X2+datum.Y2)","as":"W2"},{"calculate":"1186+923.25*(datum.X2-datum.Y2)/datum.W2","as":"sx2"},{"calculate":"(1732-204.8*(datum.X2+datum.Y2))/datum.W2","as":"sy2"}],
"mark":{"type":"rule","color":"#000","strokeWidth":4.5},
"encoding":{"x":{"field":"sx","type":"quantitative","axis":null,"scale":{"domain":[347,2124],"nice":false,"zero":false}},"y":{"field":"sy","type":"quantitative","axis":null,"scale":{"domain":[1900,0],"nice":false,"zero":false}},"x2":{"field":"sx2"},"y2":{"field":"sy2"}}},
{"data":{"name":"mesh"},"transform":[
{"window":[{"op":"lead","field":"v","as":"vd"}],"groupby":["c"],"sort":[{"field":"d"}]},
{"window":[{"op":"lead","field":"v","as":"vc"},{"op":"lead","field":"vd","as":"vcd"}],"groupby":["d"],"sort":[{"field":"c"}]},
{"filter":"isValid(datum.vcd)&&isValid(datum.vd)&&isValid(datum.vc)"},
{"calculate":"(datum.c-268.3)/200","as":"X"},{"calculate":"(datum.d-937.5)/50","as":"Y"},{"calculate":"datum.X+.05","as":"X1"},{"calculate":"datum.Y+.05","as":"Y1"},
{"calculate":"(datum.v-1.8468)/.1332","as":"za"},{"calculate":"(datum.vc-1.8468)/.1332","as":"zb"},{"calculate":"(datum.vcd-1.8468)/.1332","as":"zc"},{"calculate":"(datum.vd-1.8468)/.1332","as":"zd"},
{"calculate":"1+.13841*(datum.X+datum.Y)-.07167*datum.za","as":"wa"},{"calculate":"1+.13841*(datum.X1+datum.Y)-.07167*datum.zb","as":"wb"},{"calculate":"1+.13841*(datum.X1+datum.Y1)-.07167*datum.zc","as":"wc"},{"calculate":"1+.13841*(datum.X+datum.Y1)-.07167*datum.zd","as":"wd"},
{"calculate":"{type:'Feature',properties:{},geometry:{type:'Polygon',coordinates:[[[1186+923.25*(datum.X-datum.Y)/datum.wa,(1732-204.8*(datum.X+datum.Y)-1289.85*datum.za)/datum.wa],[1186+923.25*(datum.X1-datum.Y)/datum.wb,(1732-204.8*(datum.X1+datum.Y)-1289.85*datum.zb)/datum.wb],[1186+923.25*(datum.X1-datum.Y1)/datum.wc,(1732-204.8*(datum.X1+datum.Y1)-1289.85*datum.zc)/datum.wc],[1186+923.25*(datum.X-datum.Y1)/datum.wd,(1732-204.8*(datum.X+datum.Y1)-1289.85*datum.zd)/datum.wd],[1186+923.25*(datum.X-datum.Y)/datum.wa,(1732-204.8*(datum.X+datum.Y)-1289.85*datum.za)/datum.wa]]]}}","as":"geo"},
{"calculate":"(datum.v+datum.vc+datum.vd+datum.vcd)/4","as":"m"},{"calculate":"(datum.vc+datum.vcd-datum.v-datum.vd)*10","as":"s"},
{"calculate":"datum.m<1.9444?0:datum.m<1.9488?255*(datum.m-1.9444)/.0044:255","as":"r0"},
{"calculate":"datum.m<1.92?0:datum.m<1.927?255*(datum.m-1.92)/.007:datum.m<1.9488?255:datum.m<1.9568?255*(1.9568-datum.m)/.008:0","as":"g0"},
{"calculate":"datum.m<1.927?255:datum.m<1.936?255*(1.936-datum.m)/.009:0","as":"b0"},
{"calculate":"min(.5,clamp(1.8*(datum.s+.03),0,.3)*(1+4*clamp((1.924-datum.m)/.006,0,1)))","as":"wh"},
{"calculate":"clamp((-.03-datum.s)*15,0,.8)","as":"bk"},
{"calculate":"'rgb('+round((datum.r0+(255-datum.r0)*datum.wh)*(1-datum.bk))+','+round((datum.g0+(255-datum.g0)*datum.wh)*(1-datum.bk))+','+round((datum.b0+(255-datum.b0)*datum.wh)*(1-datum.bk))+')'","as":"fc"},
{"calculate":"datum.X+datum.Y","as":"depth"}],
"projection":{"type":"identity","scale":1,"translate":[-347,0]},
"mark":{"type":"geoshape","stroke":"#000","strokeWidth":2,"strokeOpacity":0.75},
"encoding":{"shape":{"field":"geo","type":"geojson"},"color":{"field":"fc","type":"nominal","scale":null},"order":{"field":"depth","type":"quantitative","sort":"descending"}}},
{"data":{"name":"frame"},"transform":[
{"calculate":"(datum.c-268.3)/200","as":"X"},{"calculate":"(datum.d-937.5)/50","as":"Y"},{"calculate":"(datum.v-1.8468)/.1332","as":"Z"},{"calculate":"1+.13841*(datum.X+datum.Y)-.07167*datum.Z","as":"W"},{"calculate":"1186+923.25*(datum.X-datum.Y)/datum.W","as":"sx"},{"calculate":"(1732-204.8*(datum.X+datum.Y)-1289.85*datum.Z)/datum.W","as":"sy"}],
"encoding":{"x":{"field":"sx","type":"quantitative","axis":null,"scale":{"domain":[347,2124],"nice":false,"zero":false}},"y":{"field":"sy","type":"quantitative","axis":null,"scale":{"domain":[1900,0],"nice":false,"zero":false}},"text":{"field":"t"}},
"layer":[
{"transform":[{"filter":"datum.k=='lv'||datum.k=='ld'||datum.k=='lc'"}],"mark":{"type":"circle","color":"#000","size":230,"opacity":1}},
{"transform":[{"filter":"datum.k=='lv'"}],"mark":{"type":"text","align":"right","baseline":"middle","dx":-29,"dy":-32,"fontSize":45,"color":"#333"}},
{"transform":[{"filter":"datum.k=='ld'"}],"mark":{"type":"text","align":"right","baseline":"middle","dx":-31,"dy":30,"fontSize":45,"color":"#333"}},
{"transform":[{"filter":"datum.k=='lc'"}],"mark":{"type":"text","align":"left","baseline":"middle","dx":29,"dy":30,"fontSize":45,"color":"#333"}},
{"transform":[{"filter":"datum.k=='tc'"}],"mark":{"type":"text","align":"center","baseline":"middle","dx":70,"dy":260,"fontSize":49,"color":"#333"}},
{"transform":[{"filter":"datum.k=='td'"}],"mark":{"type":"text","align":"center","baseline":"middle","dx":-393,"dy":104,"fontSize":49,"color":"#333"}},
{"transform":[{"filter":"datum.k=='tv'"}],"mark":{"type":"text","align":"center","baseline":"middle","angle":270,"dx":-64,"dy":-294,"fontSize":50,"color":"#333"}}
]}
]},
{"width":1777,"height":1781,"title":{"text":"Vth/V∞","fontSize":78,"fontWeight":"normal","color":"#222","offset":6,"dx":-14},
"encoding":{"x":{"field":"c","type":"quantitative","scale":{"domain":[312.5,412.5],"nice":false,"zero":false},"axis":{"values":[312.5,332.5,352.5,372.5,392.5,412.5],"format":".1f","grid":false,"domain":false,"title":"C: Lc (mm)","titleFontSize":58,"titleFontWeight":"normal","titleColor":"#333","titlePadding":84,"labelFontSize":43,"labelColor":"#333","labelPadding":30,"labelOverlap":false,"labelFlush":false,"tickSize":44,"tickWidth":3,"tickColor":"#444"}},
"y":{"field":"d","type":"quantitative","scale":{"domain":[912.5,1012.5],"nice":false,"zero":false},"axis":{"values":[912.5,932.5,952.5,972.5,992.5,1012.5],"format":".1f","grid":false,"domain":false,"title":"D: Ld (mm)","titleFontSize":58,"titleFontWeight":"normal","titleColor":"#333","titlePadding":66,"labelFontSize":43,"labelColor":"#333","labelPadding":17,"labelOverlap":false,"labelFlush":false,"tickSize":44,"tickWidth":3,"tickColor":"#444"}}},
"layer":[
{"data":{"values":[{"c":312.5,"c2":412.5,"d":912.5,"d2":1012.5}]},"mark":{"type":"rect","color":"#0000ff"},"encoding":{"x2":{"field":"c2"},"y2":{"field":"d2"}}},
{"data":{"name":"bands"},"mark":{"type":"area","interpolate":"natural","clip":true},"encoding":{"y2":{"datum":1012.5},"detail":{"field":"L","type":"nominal"},"color":{"field":"L","type":"quantitative","legend":null,"scale":{"domain":[1.92,1.927,1.936,1.9444,1.9488,1.9568],"range":["#0000ff","#00ffff","#00ff00","#00ff00","#ffff00","#ff0000"]}}}},
{"data":{"name":"levels"},"mark":{"type":"line","interpolate":"natural","clip":true,"color":"#0a0a0a","strokeWidth":2.5},"encoding":{"detail":{"field":"L","type":"nominal"}}},
{"data":{"values":[{"c":349.1,"c2":353.5,"d":972.2,"d2":974.8,"t":"1.94"},{"c":348.1,"c2":352.5,"d":936.4,"d2":938.7,"t":"1.92"},{"c":371.5,"c2":376,"d":992.5,"d2":994.9,"t":"1.96"},{"c":399,"c2":403.5,"d":1009.4,"d2":1011.9,"t":"1.98"}]},"layer":[
{"mark":{"type":"rect","fill":"white","stroke":"#111","strokeWidth":3},"encoding":{"x2":{"field":"c2"},"y2":{"field":"d2"}}},
{"transform":[{"calculate":"(datum.c+datum.c2)/2","as":"c"},{"calculate":"(datum.d+datum.d2)/2","as":"d"}],"mark":{"type":"text","fontSize":28,"color":"#333","align":"center","baseline":"middle"},"encoding":{"text":{"field":"t"}}}
]},
{"data":{"values":[{"c":312.5,"c2":412.5,"d":912.5,"d2":1012.5}]},"mark":{"type":"rect","filled":false,"stroke":"#222","strokeWidth":3},"encoding":{"x2":{"field":"c2"},"y2":{"field":"d2"}}}
]}
]}
